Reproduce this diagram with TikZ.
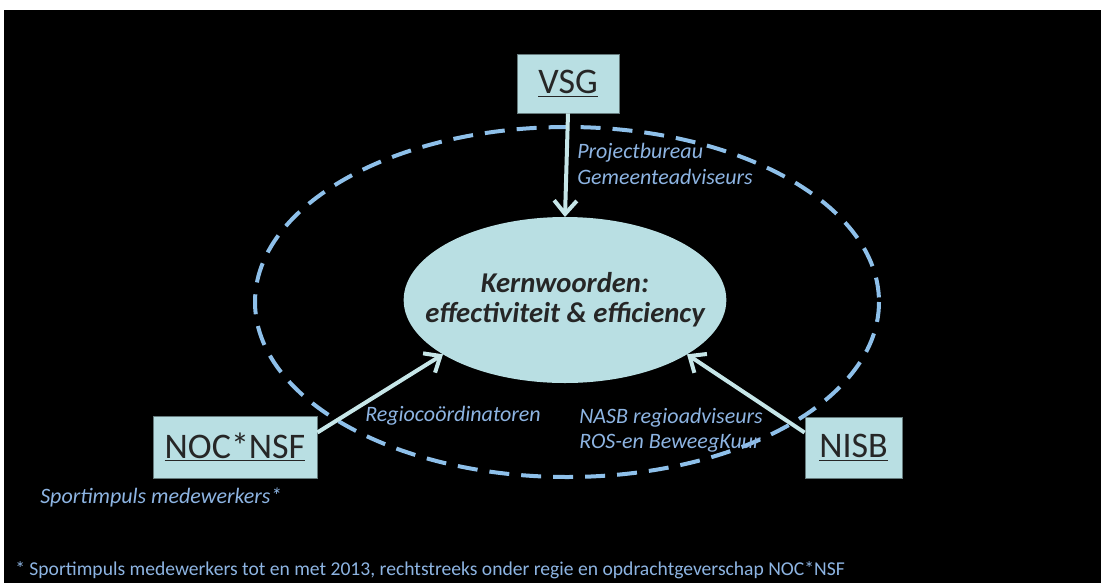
\documentclass[tikz,border=0pt]{standalone}
\usepackage{fontspec}
\setmainfont{Carlito}
\usetikzlibrary{shapes.geometric,arrows.meta}
\definecolor{boxfill}{RGB}{185,223,227}
\definecolor{labelblue}{RGB}{141,180,226}
\definecolor{ringblue}{RGB}{142,192,234}
\definecolor{arrowcol}{RGB}{198,230,232}

\begin{document}
\begin{tikzpicture}[x=0.75pt,y=-0.75pt,
    org/.style={fill=boxfill,draw=boxfill!55!black,line width=0.6pt,inner sep=0pt,text=black!85,font=\fontsize{27}{30}\selectfont},
    lbl/.style={text=labelblue,align=left,inner sep=0pt,anchor=west,font=\fontsize{16.5}{19}\selectfont\itshape},
    arr/.style={draw=arrowcol,line width=3pt,-{Straight Barb[length=10pt,width=17pt]}}]
    \useasboundingbox (0,0) rectangle (1101,583);
    \fill[white] (0,0) rectangle (1101,583);
    \fill[black] (4,10) rectangle (1101,583);
    \draw[ringblue,line width=3pt,dash pattern=on 15pt off 9pt] (567,302) ellipse [x radius=312, y radius=175];

    \node[ellipse,fill=boxfill,inner sep=0pt,outer sep=0pt,minimum width=242pt,minimum height=124.5pt,align=center,text=black!85,font=\fontsize{21.5}{22.5}\selectfont\bfseries\itshape] (Kern) at (565,300) {\makebox[0pt]{Kernwoorden:}\\\makebox[0pt]{effectiviteit \& efficiency}};
    \node[org,minimum width=76.5pt,minimum height=44.25pt] (VSG) at (568,83.5) {\underline{VSG}};
    \node[org,minimum width=123pt,minimum height=46.5pt] (NOC) at (235,447) {\underline{NOC*NSF}};
    \node[org,minimum width=72.75pt,minimum height=45.75pt] (NISB) at (853.5,447.5) {\underline{NISB}};

    \node[lbl] (Proj) at (577,164) {Projectbureau\\Gemeenteadviseurs};
    \node[lbl] (Regio) at (365,416) {Regiocoördinatoren};
    \node[lbl] (Nasb) at (579,430) {NASB regioadviseurs\\ROS-en BeweegKuur};
    \node[lbl] (Sport) at (40,497) {Sportimpuls medewerkers*};
    \node[anchor=west,inner sep=0pt,text=labelblue,font=\fontsize{14.7}{17}\selectfont] (Note) at (15,570) {* Sportimpuls medewerkers tot en met 2013, rechtstreeks onder regie en opdrachtgeverschap NOC*NSF};

    % Arrows
    \draw[arr] (VSG.south) -- (Kern.north);
    \draw[arr] (NOC.10) -- (Kern.204);
    \draw[arr] (NISB.163) -- (Kern.336);
\end{tikzpicture}
\end{document}
